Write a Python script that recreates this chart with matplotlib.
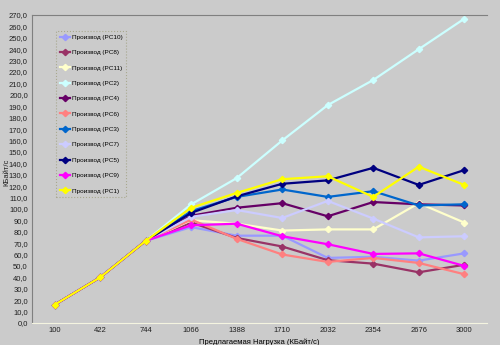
import matplotlib
matplotlib.use("Agg")
import matplotlib.pyplot as plt
import numpy as np

plt.rcParams['font.family'] = ['Liberation Sans', 'DejaVu Sans']

# offered load categories (KB/s)
loads = ["100", "422", "744", "1066", "1388", "1710", "2032", "2354", "2676", "3000"]

# throughput per station, KB/s
pc10 = [16, 40, 72, 84, 76.5, 76.5, 57, 58, 54.6, 61]
pc8 = [16, 40, 72, 88, 74.5, 67, 55, 52, 44.4, 51]
pc11 = [16, 40, 72, 90, 87, 81, 82, 82, 105, 88]
pc2 = [16, 40, 72, 104, 127, 160, 191, 213, 240, 266.7]
pc4 = [16, 40, 72, 94, 101, 105, 93.5, 106, 104, 103]
pc6 = [16, 40, 72, 90.6, 73.7, 60, 53.5, 57, 52.6, 42.7]
pc3 = [16, 40, 72, 98, 110.5, 117, 110.5, 115.5, 103, 104]
pc7 = [16, 40, 72, 93, 99, 92, 107, 91.5, 75, 76]
pc5 = [16, 40, 72, 96.5, 111, 122, 125, 136, 121, 134]
pc9 = [16, 40, 72, 85.6, 87, 76, 69, 60.5, 61, 50]
pc1 = [16, 40, 72, 101, 114, 126, 128.6, 110.5, 137, 121]

names = ["PC10", "PC8", "PC11", "PC2", "PC4", "PC6", "PC3", "PC7", "PC5", "PC9", "PC1"]
series = [pc10, pc8, pc11, pc2, pc4, pc6, pc3, pc7, pc5, pc9, pc1]
colors = ["#9999FF", "#993366", "#FFFFCC", "#CCFFFF", "#660066", "#FF8080",
          "#0066CC", "#CCCCFF", "#000080", "#FF00FF", "#FFFF00"]

bg = "#CBCBCB"
fig = plt.figure(figsize=(5, 3.45), dpi=100, facecolor=bg)
ax = fig.add_axes([0.064, 0.064, 0.91, 0.8925], facecolor=bg)

x = np.arange(len(loads))
for name, vals, c in zip(names, series, colors):
    ax.plot(x, vals, color=c, lw=1.6, marker="D", ms=3.2,
            label="Производ (" + name + ")")

ax.set_xlim(-0.5, len(loads) - 0.5)
ax.set_ylim(0, 270)
ax.set_yticks(np.arange(0, 271, 10))
ax.set_yticklabels([("%.1f" % v).replace(".", ",") for v in np.arange(0, 271, 10)])
ax.set_xticks(x)
ax.set_xticklabels(loads)
ax.tick_params(labelsize=5.5, length=0, pad=3, colors="#202020")

ax.spines["right"].set_visible(False)
ax.spines["top"].set_color("#808080")
ax.spines["left"].set_color("#808080")
ax.spines["bottom"].set_color("#F4F4E0")
ax.spines["bottom"].set_linestyle((0, (2, 1)))

ax.set_xlabel("Предлагаемая Нагрузка (КБайт/с)", fontsize=5.5, labelpad=3)
fig.text(0.013, 0.5, "КБайт/с", fontsize=5.5, rotation=90,
         ha="center", va="center", color="#202020")

leg = ax.legend(loc="upper left", bbox_to_anchor=(0.046, 0.96), fontsize=4.6,
                frameon=True, fancybox=False, labelspacing=1.55,
                handlelength=1.5, handletextpad=0.35, borderpad=0.6)
leg.get_frame().set_facecolor(bg)
leg.get_frame().set_edgecolor("#A0A080")
leg.get_frame().set_linestyle(":")
leg.get_frame().set_linewidth(0.8)

fig.savefig("out.png", dpi=100, facecolor=bg)
